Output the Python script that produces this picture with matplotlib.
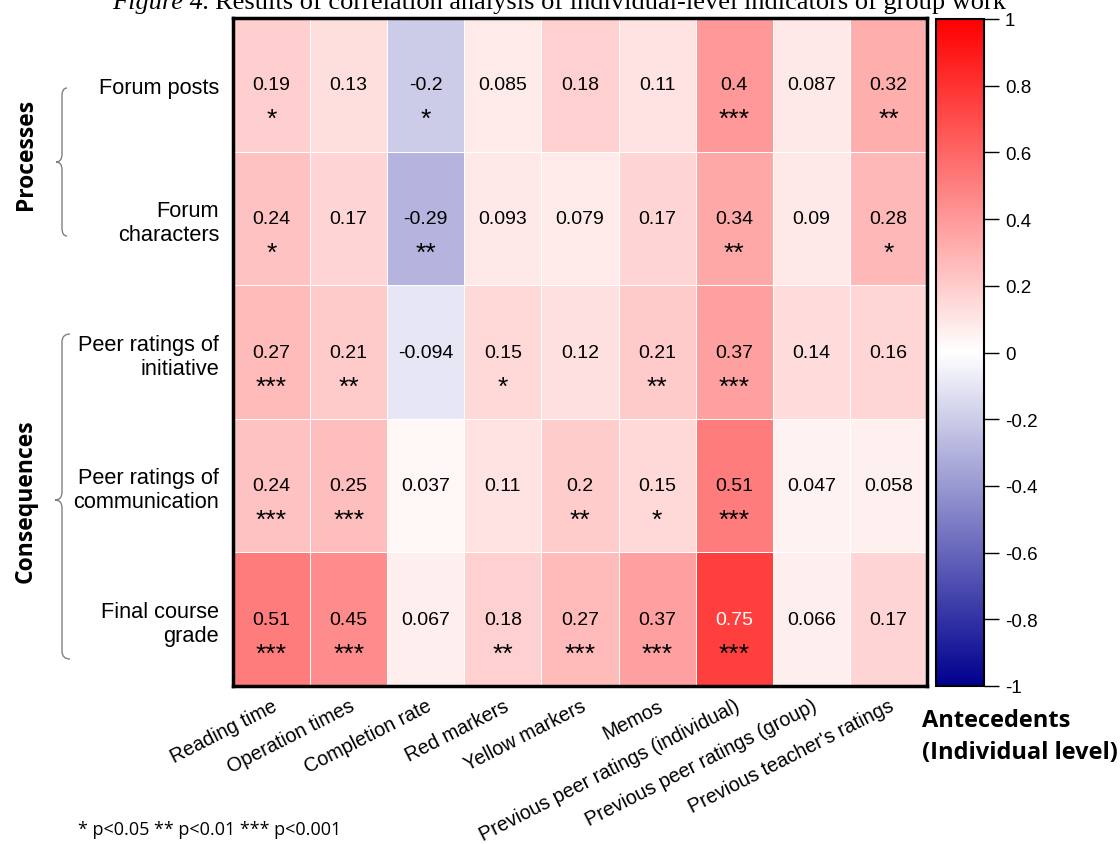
import matplotlib
matplotlib.use('Agg')
import matplotlib.pyplot as plt
import numpy as np
from matplotlib.colors import LinearSegmentedColormap
from matplotlib.path import Path
from matplotlib.patches import PathPatch

plt.rcParams['font.family'] = ['Liberation Sans', 'DejaVu Sans']

# 数据
row_labels = ['Forum posts', 'Forum\ncharacters', 'Peer ratings of\ninitiative',
              'Peer ratings of\ncommunication', 'Final course\ngrade']
col_labels = ['Reading time', 'Operation times', 'Completion rate', 'Red markers',
              'Yellow markers', 'Memos', 'Previous peer ratings (individual)',
              'Previous peer ratings (group)', "Previous teacher's ratings"]

r_forum_posts = [0.19, 0.13, -0.2, 0.085, 0.18, 0.11, 0.4, 0.087, 0.32]
r_forum_chars = [0.24, 0.17, -0.29, 0.093, 0.079, 0.17, 0.34, 0.09, 0.28]
r_peer_init = [0.27, 0.21, -0.094, 0.15, 0.12, 0.21, 0.37, 0.14, 0.16]
r_peer_comm = [0.24, 0.25, 0.037, 0.11, 0.2, 0.15, 0.51, 0.047, 0.058]
r_final_grade = [0.51, 0.45, 0.067, 0.18, 0.27, 0.37, 0.75, 0.066, 0.17]

sig_forum_posts = ['*', '', '*', '', '', '', '***', '', '**']
sig_forum_chars = ['*', '', '**', '', '', '', '**', '', '*']
sig_peer_init = ['***', '**', '', '*', '', '**', '***', '', '']
sig_peer_comm = ['***', '***', '', '', '**', '*', '***', '', '']
sig_final_grade = ['***', '***', '', '**', '***', '***', '***', '', '']

cbar_ticks = [-1, -0.8, -0.6, -0.4, -0.2, 0, 0.2, 0.4, 0.6, 0.8, 1]

data = np.array([r_forum_posts, r_forum_chars, r_peer_init, r_peer_comm, r_final_grade])
sigs = [sig_forum_posts, sig_forum_chars, sig_peer_init, sig_peer_comm, sig_final_grade]

W, H = 1120, 845
fig = plt.figure(figsize=(W / 100, H / 100), dpi=100)


def fx(px):
    return px / W


def fy(py):
    return 1 - py / H


cmap = LinearSegmentedColormap.from_list('bwr2', ['#00008F', '#FFFFFF', '#FF0000'])

ax = fig.add_axes([fx(233), fy(687), (927 - 233) / W, (687 - 19) / H])
mesh = ax.pcolormesh(data, cmap=cmap, vmin=-1, vmax=1,
                     edgecolors='white', linewidth=0.6)
ax.set_xlim(0, data.shape[1])
ax.set_ylim(data.shape[0], 0)

for i in range(data.shape[0]):
    for j in range(data.shape[1]):
        v = data[i, j]
        c = 'white' if v > 0.7 else 'black'
        ax.text(j + 0.5, i + 0.5, f'{v:g}', ha='center', va='center',
                fontsize=14, color=c)
        if sigs[i][j]:
            ax.text(j + 0.5, i + 0.81, sigs[i][j], ha='center', va='baseline',
                    fontsize=19, color='black')

ax.set_xticks(np.arange(data.shape[1]) + 0.5)
ax.set_xticklabels(col_labels, rotation=27, ha='right', rotation_mode='anchor',
                   fontsize=14.2)
ax.set_yticks(np.arange(data.shape[0]) + 0.5)
ax.set_yticklabels(row_labels, fontsize=15.7, linespacing=1.2)
ax.tick_params(axis='both', length=0)
ax.tick_params(axis='x', pad=7)
ax.tick_params(axis='y', pad=10)
for s in ax.spines.values():
    s.set_linewidth(2.5)
    s.set_color('black')

# 颜色条
cax = fig.add_axes([fx(936), fy(687), 48 / W, (687 - 20) / H])
cb = fig.colorbar(mesh, cax=cax, ticks=cbar_ticks)
cb.ax.set_yticklabels([f'{t:g}' for t in cbar_ticks], fontsize=13.5)
cb.ax.tick_params(length=11, width=1, direction='out', pad=4)
cb.outline.set_linewidth(1.5)

# 标题（上半部分被裁掉）
t1 = fig.text(fx(112), fy(9), 'Figure 4.', fontsize=19, family='Liberation Serif',
              style='italic', va='baseline', ha='left')
fig.canvas.draw()
bb = t1.get_window_extent()
fig.text(bb.x1 / W + 5 / W, fy(9),
         'Results of correlation analysis of individual-level indicators of group work',
         fontsize=19, family='Liberation Serif', va='baseline', ha='left')

# 分组标签
fig.text(fx(26), fy(154), 'Processes', rotation=90, fontsize=16.5, fontweight='bold',
         family='Open Sans', ha='center', va='center')
fig.text(fx(26), fy(501), 'Consequences', rotation=90, fontsize=16.5, fontweight='bold',
         family='Open Sans', ha='center', va='center')
fig.text(fx(922), fy(721), 'Antecedents', fontsize=17,
         fontweight='bold', family='Open Sans', ha='left', va='center')
fig.text(fx(922), fy(753), '(Individual level)', fontsize=17,
         fontweight='bold', family='Open Sans', ha='left', va='center')


def brace(x_line, x_tip, x_end, y_top, y_tip, y_bot, r=8):
    pts = [(x_end, y_top), (x_line, y_top), (x_line, y_top + r),
           (x_line, y_tip - r), (x_line, y_tip), (x_tip, y_tip),
           (x_line, y_tip), (x_line, y_tip + r),
           (x_line, y_bot - r), (x_line, y_bot), (x_end, y_bot)]
    codes = [Path.MOVETO, Path.CURVE3, Path.CURVE3,
             Path.LINETO, Path.CURVE3, Path.CURVE3,
             Path.CURVE3, Path.CURVE3,
             Path.LINETO, Path.CURVE3, Path.CURVE3]
    verts = [(fx(x), fy(y)) for x, y in pts]
    patch = PathPatch(Path(verts, codes), facecolor='none', edgecolor='#808080',
                      linewidth=1.0, transform=fig.transFigure)
    fig.add_artist(patch)


brace(62, 56, 67, 89, 163, 237)
brace(62, 55, 70, 335, 501, 660)

fig.text(fx(78), fy(830), '* p<0.05 ** p<0.01 *** p<0.001', fontsize=13,
         family='Open Sans', ha='left', va='center')

fig.savefig('out.png', dpi=100, facecolor='white')
